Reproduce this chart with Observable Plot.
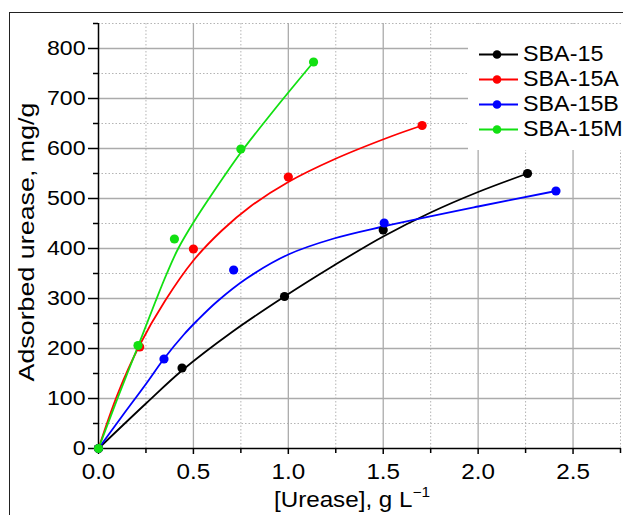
<!DOCTYPE html>
<html><head><meta charset="utf-8">
<script src="https://cdn.jsdelivr.net/npm/d3@7"></script>
<script src="https://cdn.jsdelivr.net/npm/@observablehq/plot@0.6"></script>
<style>
body{margin:0;background:#fff;}
#wrap{position:relative;width:623px;height:515px;overflow:hidden;font-family:"Liberation Sans",Arial,sans-serif;color:#000;}
#frame{position:absolute;left:9px;top:12px;width:700px;height:600px;border:1.5px solid #222;box-sizing:border-box;}
#chart{position:absolute;left:0;top:0;}
#legend{position:absolute;left:468px;top:24px;width:160px;height:126px;background:#fff;}
.lg{position:absolute;left:0;height:25px;width:160px;}
.lg svg{position:absolute;left:10px;top:0;}
.lg span{position:absolute;left:55px;top:0px;font-size:22px;line-height:24px;white-space:nowrap;transform-origin:0 50%;transform:scaleX(1.06);}
#ytitle{position:absolute;left:27px;top:242px;font-size:22px;line-height:22px;white-space:nowrap;transform:translate(-50%,-50%) rotate(-90deg) scaleX(1.22);}
#xtitle{position:absolute;left:352px;top:489px;font-size:22px;line-height:22px;white-space:nowrap;transform:translateX(-50%) scaleX(1.1);}
#xtitle sup{font-size:14px;line-height:0;position:relative;top:-2px;}
</style></head>
<body>
<div id="wrap">
  <div id="frame"></div>
  <div id="chart"></div>
  <div id="legend"></div>
  <div id="ytitle">Adsorbed urease, mg/g</div>
  <div id="xtitle">[Urease], g L<sup>−1</sup></div>
</div>
<script>
// ---- data ----
const series = ["SBA-15", "SBA-15A", "SBA-15B", "SBA-15M"];
const colors = ["#000000", "#ff0000", "#0000ff", "#12e012"];

// measured points
const ptX15 = [0, 0.44, 0.98, 1.50, 2.26];
const ptY15 = [0, 161, 304, 437, 550];
const ptXA  = [0, 0.217, 0.50, 1.00, 1.705];
const ptYA  = [0, 203, 399, 543, 646];
const ptXB  = [0, 0.345, 0.712, 1.505, 2.41];
const ptYB  = [0, 179, 357, 451, 515];
const ptXM  = [0, 0.208, 0.40, 0.75, 1.133];
const ptYM  = [0, 206, 419, 599, 773];

// fitted curves
const fitX15 = [0, 0.25, 0.44, 0.7, 0.98, 1.24, 1.5, 1.75, 2.0, 2.26];
const fitY15 = [0, 90, 156, 232, 304, 366, 424, 472, 513, 550];
const fitXA  = [0, 0.1, 0.217, 0.35, 0.5, 0.65, 0.8, 1.0, 1.24, 1.54, 1.705];
const fitYA  = [0, 108, 207, 295, 376, 436, 484, 533, 578, 624, 646];
const fitXB  = [0, 0.125, 0.25, 0.344, 0.45, 0.52, 0.625, 0.78, 1.0, 1.24, 1.5, 2.0, 2.41];
const fitYB  = [0, 65, 129, 179, 228, 256, 294, 340, 388, 420, 444, 484, 515];
const fitXM  = [0, 0.1, 0.21, 0.3, 0.36, 0.42, 0.5, 0.6, 0.75, 0.9, 1.0, 1.133];
const fitYM  = [0, 100, 206, 294, 350, 400, 452, 510, 592, 665, 712, 773];

const xMajor = [0, 0.5, 1.0, 1.5, 2.0, 2.5];
const xMinor = [0.25, 0.75, 1.25, 1.75, 2.25, 2.75];
const yMajor = [0, 100, 200, 300, 400, 500, 600, 700, 800];
const yMinor = [50, 150, 250, 350, 450, 550, 650, 750, 850];

// ---- build tables ----
const ptSets = [[ptX15, ptY15], [ptXA, ptYA], [ptXB, ptYB], [ptXM, ptYM]];
const fitSets = [[fitX15, fitY15], [fitXA, fitYA], [fitXB, fitYB], [fitXM, fitYM]];
const points = ptSets.flatMap(([xs, ys], i) => xs.map((x, j) => ({s: series[i], x, y: ys[j]})));
const fits = fitSets.flatMap(([xs, ys], i) => xs.map((x, j) => ({s: series[i], x, y: ys[j]})));
const xGrid = xMajor.slice(1);
const yGrid = yMajor.slice(1);

const color = {domain: series, range: colors};

const plot = Plot.plot({
  width: 623,
  height: 515,
  marginTop: 23,
  marginBottom: 67,
  marginLeft: 98,
  marginRight: 3,
  style: {fontFamily: '"Liberation Sans", Arial, sans-serif', background: "transparent", color: "#000"},
  x: {domain: [0, 2.75]},
  y: {domain: [0, 850]},
  color,
  marks: [
    Plot.ruleX(xMinor, {stroke: "#b4b4b4", strokeWidth: 1, strokeDasharray: "1.5,2"}),
    Plot.ruleY(yMinor, {stroke: "#b4b4b4", strokeWidth: 1, strokeDasharray: "1.5,2"}),
    Plot.ruleX(xGrid, {stroke: "#ababab", strokeWidth: 1.3}),
    Plot.ruleY(yGrid, {stroke: "#ababab", strokeWidth: 1.3}),
    Plot.axisY(yMinor, {tickSize: 5, fill: "none", label: null, strokeWidth: 1.5}),
    Plot.axisY(yMajor, {tickSize: 10, tickPadding: 3, fontSize: 21, label: null, strokeWidth: 1.5}),
    Plot.axisX(xMinor, {tickSize: 5, fill: "none", label: null, strokeWidth: 1.5}),
    Plot.axisX(xMajor, {tickSize: 6, tickPadding: 9, fontSize: 22, label: null, strokeWidth: 1.5, tickFormat: d3.format(".1f")}),
    Plot.ruleX([0], {strokeWidth: 1.5}),
    Plot.ruleY([0], {strokeWidth: 1.5}),
    Plot.line(fits, {x: "x", y: "y", z: "s", stroke: "s", strokeWidth: 1.8, curve: "catmull-rom"}),
    Plot.dot(points, {x: "x", y: "y", fill: "s", r: 4.6})
  ]
});
// stretch tick label text horizontally like the original
const S = 1.1;
plot.querySelectorAll("text").forEach(t => {
  const tr = t.getAttribute("transform") || "";
  t.setAttribute("transform", tr + ` scale(${S},1)`);
  const x = t.getAttribute("x");
  if (x != null) t.setAttribute("x", (+x) / S);
});
document.getElementById("chart").appendChild(plot);

// legend
const lg = d3.select("#legend");
series.forEach((name, i) => {
  const row = lg.append("div").attr("class", "lg").style("top", (18 + 25 * i) + "px");
  const sv = row.append("svg").attr("width", 42).attr("height", 25);
  sv.append("line").attr("x1", 1).attr("x2", 40).attr("y1", 12.5).attr("y2", 12.5)
    .attr("stroke", colors[i]).attr("stroke-width", 1.8);
  sv.append("circle").attr("cx", 19).attr("cy", 12.5).attr("r", 4.3).attr("fill", colors[i]);
  row.append("span").text(name);
});
</script>
</body></html>
